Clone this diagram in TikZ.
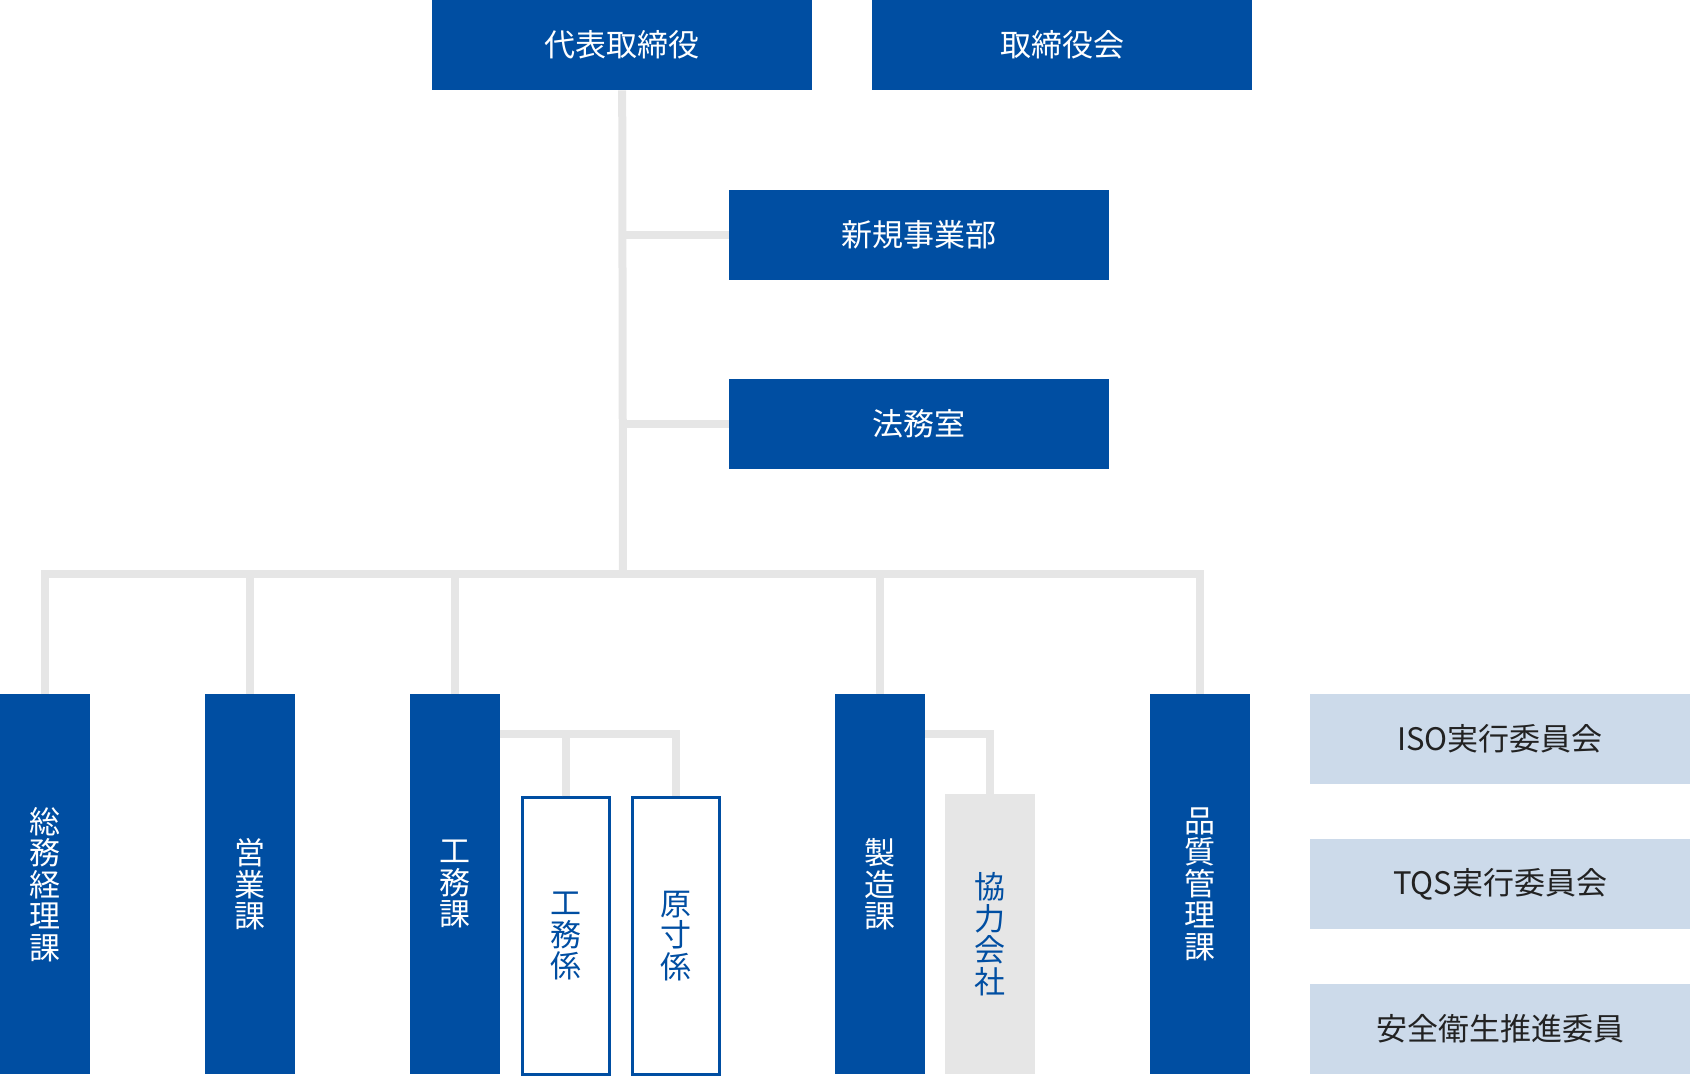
\documentclass[tikz,border=0pt]{standalone}
\usepackage{fontspec}
\setmainfont{Noto Sans CJK JP}
\definecolor{orgblue}{HTML}{004EA2}
\definecolor{linkgray}{HTML}{E6E6E6}
\definecolor{committee}{HTML}{CCDAEA}
\definecolor{committeetext}{HTML}{222222}

\begin{document}
\begin{tikzpicture}[
            x = 1pt, y = -1pt,
            every node/.style={inner sep=0pt, align=center, anchor=north west,
                               font=\fontsize{31}{31.5}\selectfont},
            head/.style={fill=orgblue, text=white, minimum width=380pt, minimum height=90pt},
            dept/.style={fill=orgblue, text=white, minimum width=90pt, minimum height=380pt},
            sect/.style={draw=orgblue, line width=2.5pt, fill=white, text=orgblue,
                         minimum width=87pt, minimum height=277pt},
            partner/.style={fill=linkgray, text=orgblue, minimum width=90pt, minimum height=280pt},
            cmte/.style={fill=committee, text=committeetext, minimum width=380pt, minimum height=90pt},
            link/.style={draw=linkgray, line width = 8pt},
            ]

        \useasboundingbox (0,0) rectangle (1690,1076);

        \coordinate (bus) at (623,574);
        \coordinate (koumubr) at (500,734);
        \coordinate (seizoubr) at (925,734);

        \node[head] (rep) at (432,0) {代表取締役};
        \node[head] (board) at (872,0) {取締役会};
        \node[head] (newbiz) at (729,190) {新規事業部};
        \node[head] (legal) at (729,379) {法務室};

        \node[dept] (soumu) at (0,694) {総\\務\\経\\理\\課};
        \node[dept] (eigyo) at (205,694) {営\\業\\課};
        \node[dept] (koumu) at (410,694) {工\\務\\課};
        \node[sect] (koumukakari) at (521.25,796.25) {工\\務\\係};
        \node[sect] (gensun) at (631.25,796.25) {原\\寸\\係};
        \node[dept] (seizou) at (835,694) {製\\造\\課};
        \node[partner] (kyouryoku) at (945,794) {協\\力\\会\\社};
        \node[dept, minimum width=100pt] (hinshitsu) at (1150,694) {品\\質\\管\\理\\課};

        \node[cmte] (iso) at (1310,694) {ISO実行委員会};
        \node[cmte] (tqs) at (1310,839) {TQS実行委員会};
        \node[cmte] (safety) at (1310,984) {安全衛生推進委員};

        \draw[link] (rep.south) -- (bus);
        \draw[link] (rep.south |- newbiz.west) -- (newbiz.west);
        \draw[link] (rep.south |- legal.west) -- (legal.west);
        \draw[link] (soumu.north) |- (hinshitsu.north |- bus) -- (hinshitsu.north);
        \foreach \d in {eigyo, koumu, seizou}
            \draw[link] (\d.north) -- (\d.north |- bus);
        \draw[link] (koumubr) -| (gensun.north);
        \draw[link] (koumukakari.north) -- (koumukakari.north |- koumubr);
        \draw[link] (seizoubr) -| (kyouryoku.north);

\end{tikzpicture}
\end{document}
